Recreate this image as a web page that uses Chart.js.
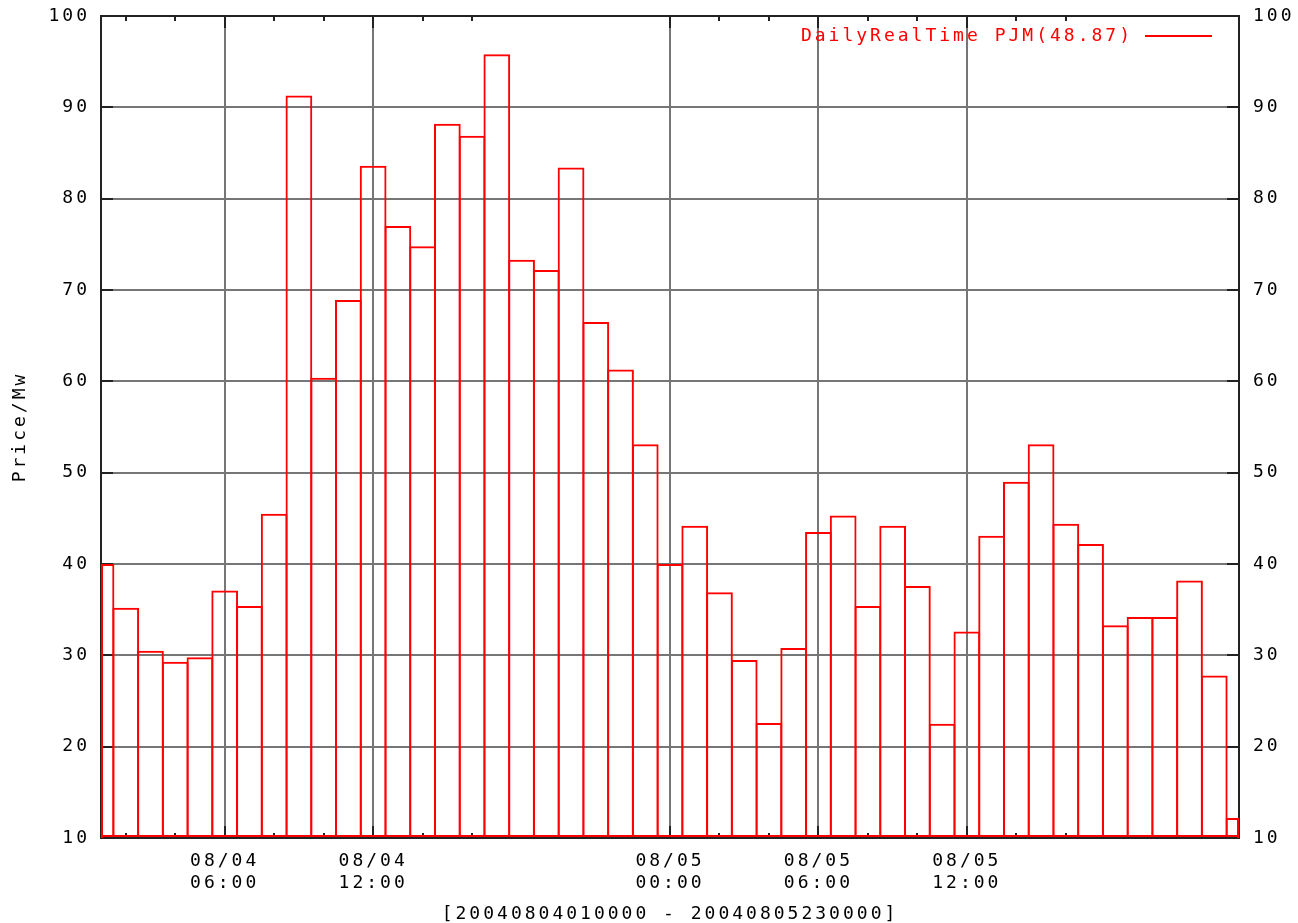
<!DOCTYPE html>
<html>
<head>
<meta charset="utf-8">
<script src="https://cdn.jsdelivr.net/npm/chart.js@4.4.1/dist/chart.umd.min.js"></script>
<style>
  html, body { margin: 0; padding: 0; background: #fff; }
  canvas { display: block; }
</style>
</head>
<body>
<canvas id="priceChart" width="1298" height="923"></canvas>
<script>
const hours = [
  '08/04 01:00', '08/04 02:00', '08/04 03:00', '08/04 04:00', '08/04 05:00', '08/04 06:00',
  '08/04 07:00', '08/04 08:00', '08/04 09:00', '08/04 10:00', '08/04 11:00', '08/04 12:00',
  '08/04 13:00', '08/04 14:00', '08/04 15:00', '08/04 16:00', '08/04 17:00', '08/04 18:00',
  '08/04 19:00', '08/04 20:00', '08/04 21:00', '08/04 22:00', '08/04 23:00', '08/05 00:00',
  '08/05 01:00', '08/05 02:00', '08/05 03:00', '08/05 04:00', '08/05 05:00', '08/05 06:00',
  '08/05 07:00', '08/05 08:00', '08/05 09:00', '08/05 10:00', '08/05 11:00', '08/05 12:00',
  '08/05 13:00', '08/05 14:00', '08/05 15:00', '08/05 16:00', '08/05 17:00', '08/05 18:00',
  '08/05 19:00', '08/05 20:00', '08/05 21:00', '08/05 22:00', '08/05 23:00'
];
const prices = [
  40.0, 35.2, 30.5, 29.3, 29.8, 37.1, 35.4, 45.5, 91.3, 60.4, 68.9, 83.6,
  77.0, 74.8, 88.2, 86.9, 95.8, 73.3, 72.2, 83.4, 66.5, 61.3, 53.1, 40.0,
  44.2, 36.9, 29.5, 22.6, 30.8, 43.5, 45.3, 35.4, 44.2, 37.6, 22.5, 32.6,
  43.1, 49.0, 53.1, 44.4, 42.2, 33.3, 34.2, 34.2, 38.2, 27.8, 12.2
];
const majorTicks = ['08/04 06:00', '08/04 12:00', '08/05 00:00', '08/05 06:00', '08/05 12:00'];
const minorTicks = [
  '08/04 02:00', '08/04 04:00', '08/04 08:00', '08/04 10:00', '08/04 14:00', '08/04 16:00',
  '08/05 02:00', '08/05 04:00', '08/05 08:00', '08/05 10:00', '08/05 14:00', '08/05 16:00'
];
const legendLabel = 'DailyRealTime PJM(48.87)';
const rangeLabel = '[20040804010000 - 20040805230000]';
const yLabel = 'Price/Mw';

const mono = "'DejaVu Sans Mono', monospace";
const gridColor = '#767676';
const frameColor = '#222';
const spacing = '3px';

function noEdgePadding(s) {
  s.paddingTop = 0;
  s.paddingBottom = 0;
  s.paddingLeft = 0;
  s.paddingRight = 0;
}

// gnuplot-like frame, inward ticks, clipped box edges and the key
const gnuFrame = {
  id: 'gnuFrame',
  beforeUpdate(chart) { chart.ctx.letterSpacing = spacing; },
  beforeDraw(chart) { chart.ctx.letterSpacing = spacing; },
  beforeDatasetsDraw(chart) {
    const {ctx, chartArea: a, scales: {x, y}} = chart;
    ctx.save();
    ctx.strokeStyle = frameColor;
    ctx.lineWidth = 2;
    ctx.strokeRect(a.left, a.top, a.right - a.left, a.bottom - a.top);
    ctx.beginPath();
    hours.forEach((h, i) => {
      const len = majorTicks.includes(h) ? 12 : (minorTicks.includes(h) ? 5 : 0);
      if (!len) return;
      const px = Math.round(x.getPixelForValue(i));
      ctx.moveTo(px, a.bottom); ctx.lineTo(px, a.bottom - len);
      ctx.moveTo(px, a.top); ctx.lineTo(px, a.top + len);
    });
    y.ticks.forEach(t => {
      const py = Math.round(y.getPixelForValue(t.value));
      ctx.moveTo(a.left, py); ctx.lineTo(a.left + 12, py);
      ctx.moveTo(a.right, py); ctx.lineTo(a.right - 12, py);
    });
    ctx.stroke();
    ctx.restore();
  },
  afterDatasetsDraw(chart) {
    const {ctx, chartArea: a, scales: {y}} = chart;
    ctx.save();
    ctx.strokeStyle = '#ff0000';
    ctx.lineWidth = 2;
    ctx.beginPath();
    ctx.moveTo(a.left + 1, y.getPixelForValue(prices[0]));
    ctx.lineTo(a.left + 1, a.bottom);
    ctx.moveTo(a.right - 1, y.getPixelForValue(prices[prices.length - 1]));
    ctx.lineTo(a.right - 1, a.bottom);
    ctx.stroke();

    ctx.letterSpacing = spacing;
    ctx.font = '18px ' + mono;
    ctx.fillStyle = '#ff0000';
    ctx.textAlign = 'right';
    ctx.textBaseline = 'middle';
    ctx.fillText(legendLabel, a.right - 106, a.top + 20);
    ctx.beginPath();
    ctx.moveTo(a.right - 94, a.top + 20);
    ctx.lineTo(a.right - 27, a.top + 20);
    ctx.stroke();
    ctx.restore();
  }
};

new Chart(document.getElementById('priceChart'), {
  type: 'bar',
  data: {
    labels: hours,
    datasets: [{
      label: legendLabel,
      data: prices,
      base: 10,
      borderColor: '#ff0000',
      backgroundColor: 'rgba(0,0,0,0)',
      borderWidth: 2,
      borderSkipped: false,
      inflateAmount: 0,
      barPercentage: 1.081,
      categoryPercentage: 1,
      clip: 0
    }]
  },
  options: {
    responsive: false,
    animation: false,
    events: [],
    layout: { padding: { top: 16, left: 0, right: 0, bottom: 0 } },
    plugins: {
      legend: { display: false },
      tooltip: { enabled: false }
    },
    scales: {
      x: {
        type: 'category',
        offset: false,
        grid: {
          offset: false,
          drawTicks: false,
          lineWidth: 2,
          color: c => majorTicks.includes(hours[c.index]) ? gridColor : 'rgba(0,0,0,0)'
        },
        border: { display: false },
        ticks: {
          autoSkip: false,
          maxRotation: 0,
          minRotation: 0,
          padding: 12,
          color: '#000',
          font: { family: mono, size: 18, lineHeight: 1.22 },
          callback: (v, i) => majorTicks.includes(hours[i]) ? hours[i].split(' ') : ''
        },
        title: {
          display: true,
          text: rangeLabel,
          color: '#000',
          font: { family: mono, size: 18, lineHeight: 1 },
          padding: { top: 0, bottom: 0 }
        },
        afterFit: s => { s.height = 85; noEdgePadding(s); }
      },
      y: {
        type: 'linear',
        position: 'left',
        min: 10,
        max: 100,
        grid: { color: gridColor, lineWidth: 2, drawTicks: false },
        border: { display: false },
        ticks: {
          stepSize: 10,
          padding: 11,
          color: '#000',
          font: { family: mono, size: 18 }
        },
        title: {
          display: true,
          text: yLabel,
          color: '#000',
          font: { family: mono, size: 18, lineHeight: 1 },
          padding: { top: 11, bottom: 0 }
        },
        afterFit: s => { s.width = 101; noEdgePadding(s); }
      },
      y2: {
        type: 'linear',
        position: 'right',
        min: 10,
        max: 100,
        grid: { display: false, drawTicks: false },
        border: { display: false },
        ticks: {
          stepSize: 10,
          padding: 14,
          color: '#000',
          font: { family: mono, size: 18 }
        },
        afterFit: s => { s.width = 59; noEdgePadding(s); }
      }
    }
  },
  plugins: [gnuFrame]
});
</script>
</body>
</html>
